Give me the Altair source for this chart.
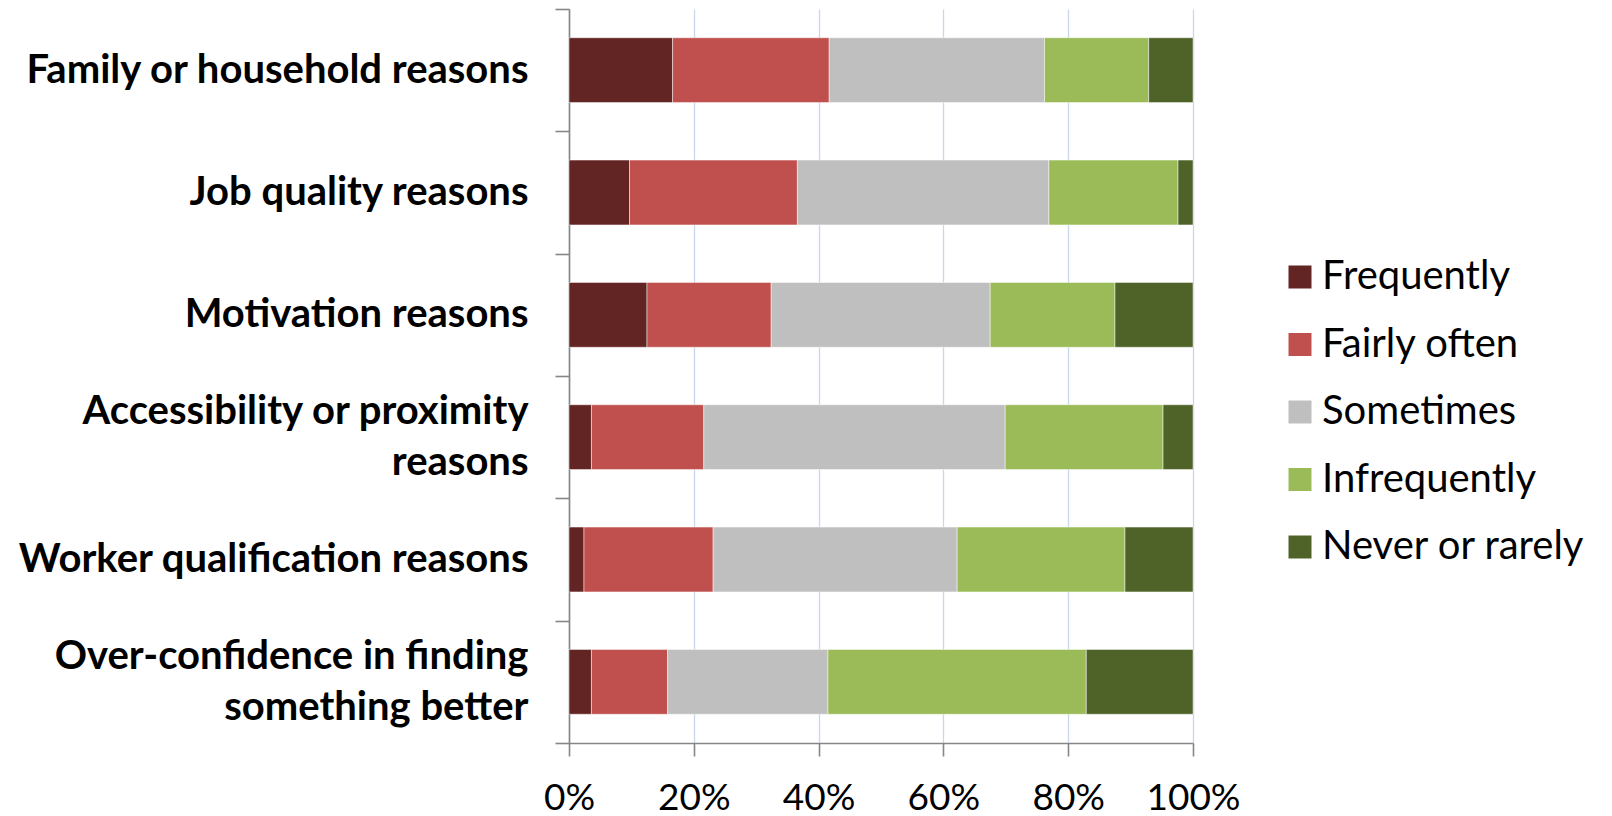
import altair as alt
import pandas as pd

# Reasons (y categories); "\n" marks where a long label wraps
reasons = [
    "Family or household reasons",
    "Job quality reasons",
    "Motivation reasons",
    "Accessibility or proximity\nreasons",
    "Worker qualification reasons",
    "Over-confidence in finding\nsomething better",
]

# Answer categories and their colours, in stacking order
levels = ["Frequently", "Fairly often", "Sometimes", "Infrequently", "Never or rarely"]
colors = ["#632523", "#c0504d", "#bfbfbf", "#9bbb59", "#4f6228"]

# Share of answers (%) per reason, one list per answer category
frequently = [16.6, 9.7, 12.5, 3.6, 2.4, 3.6]
fairly_often = [25.1, 26.9, 19.9, 18.0, 20.7, 12.2]
sometimes = [34.5, 40.3, 35.1, 48.3, 39.1, 25.7]
infrequently = [16.7, 20.7, 20.0, 25.3, 26.9, 41.4]
never_rarely = [7.1, 2.4, 12.5, 4.8, 10.9, 17.1]

series = [frequently, fairly_often, sometimes, infrequently, never_rarely]
rows = []
for k, (level, values) in enumerate(zip(levels, series)):
    for reason, v in zip(reasons, values):
        rows.append({"reason": reason, "level": level, "order": k, "share": v})
df = pd.DataFrame(rows)

FONT = "Lato"
AXIS_GREY = "#868686"

PLOT_W, PLOT_H = 624, 734
PAD_INNER = 0.47
n = len(reasons)
step = PLOT_H / n
bandwidth = (1 - PAD_INNER) * step
half_gap = PAD_INNER * step / 2
# put category ticks on the boundaries between bands (mid-gap)
tick_offset = -half_gap
band_pos = 1 + 2 * half_gap / bandwidth
half_line = 25.5

# Labels are laid out on a half-line grid: a one-line label sits on the
# middle slot, a two-line label on the slots above and below it.
# A zero-width space fills the blank slots so they keep their line advance.
label_expr = (
    "indexof(datum.label, '\\n') >= 0"
    " ? [split(datum.label, '\\n')[0], '\\u200b', split(datum.label, '\\n')[1]]"
    " : ['\\u200b', datum.label]"
)

bars = (
    alt.Chart(df)
    .mark_bar(stroke="#ffffff", strokeWidth=0.8, strokeOpacity=0.6)
    .encode(
        x=alt.X(
            "share:Q",
            stack="normalize",
            scale=alt.Scale(domain=[0, 1], nice=False),
            axis=alt.Axis(
                title=None,
                format=".0%",
                values=[0, 0.2, 0.4, 0.6, 0.8, 1.0],
                grid=True,
                gridColor="#c6d7ee",
                gridWidth=1.3,
                domainColor=AXIS_GREY,
                domainWidth=1.6,
                tickColor=AXIS_GREY,
                tickWidth=1.6,
                tickSize=13,
                labelFont=FONT,
                labelFontSize=37,
                labelColor="#000000",
                labelPadding=24,
                labelFlush=False,
            ),
        ),
        y=alt.Y(
            "reason:N",
            sort=reasons,
            scale=alt.Scale(paddingInner=PAD_INNER, paddingOuter=PAD_INNER / 2),
            axis=alt.Axis(
                title=None,
                labelExpr=label_expr,
                labelFont=FONT,
                labelFontSize=40,
                labelFontWeight="bold",
                labelColor="#000000",
                labelLineHeight=half_line,
                labelPadding=27,
                labelLimit=0,
                labelOffset=half_gap - half_line,
                bandPosition=band_pos,
                tickExtra=True,
                tickOffset=tick_offset,
                tickSize=14,
                tickColor=AXIS_GREY,
                tickWidth=1.6,
                domainColor=AXIS_GREY,
                domainWidth=1.6,
                grid=False,
            ),
        ),
        color=alt.Color(
            "level:N",
            scale=alt.Scale(domain=levels, range=colors),
            legend=alt.Legend(
                title=None,
                orient="none",
                legendX=711,
                legendY=248,
                symbolType="square",
                symbolSize=529,
                symbolStrokeWidth=0,
                labelFont=FONT,
                labelFontSize=40,
                labelColor="#000000",
                labelOffset=2,
                rowPadding=27.5,
                padding=0,
                labelLimit=0,
            ),
        ),
        order=alt.Order("order:Q"),
    )
)

chart = (
    bars.properties(
        width=PLOT_W,
        height=PLOT_H,
        autosize=alt.AutoSizeParams(type="none"),
        padding={"left": 569, "top": 9, "right": 419, "bottom": 73},
        background="#ffffff",
    )
    .configure_view(stroke=None)
)

chart.save("out.html", embed_options={"renderer": "svg", "actions": False})
